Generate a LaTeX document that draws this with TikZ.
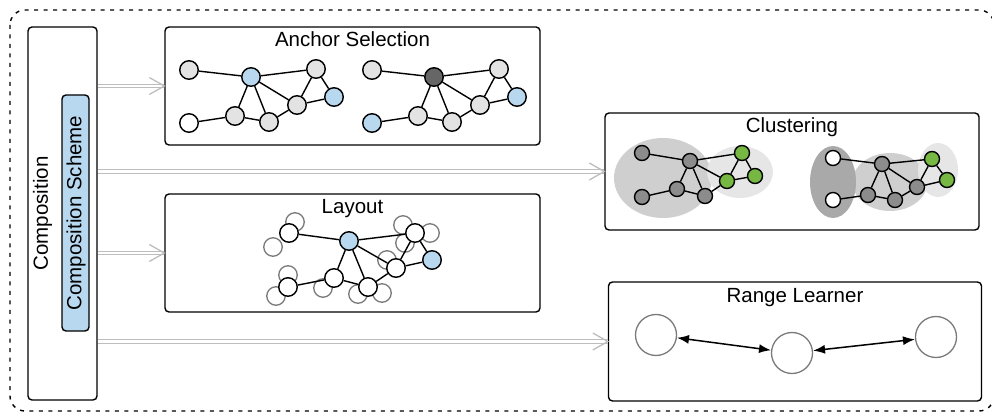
\documentclass[tikz,border=0pt]{standalone}
\usepackage{fontspec}
\setmainfont{Liberation Sans}
\usetikzlibrary{arrows.meta,calc}
\definecolor{lg}{HTML}{E3E3E3}
\definecolor{lb}{HTML}{B8D8F0}
\definecolor{dg}{HTML}{666666}
\definecolor{cg}{HTML}{8C8C8C}
\definecolor{gr}{HTML}{77B843}
\definecolor{ellA}{HTML}{CFCFCF}
\definecolor{ellB}{HTML}{E6E6E6}
\definecolor{ellC}{HTML}{A9A9A9}
\definecolor{ghost}{HTML}{7A7A7A}
\definecolor{feedc}{HTML}{BDBDBD}
\begin{document}
\begin{tikzpicture}[x=1pt,y=-1pt,
  box/.style={draw, line width=1.4pt, rounded corners=4pt, inner sep=0pt},
  title/.style={anchor=base, font=\fontsize{20.5pt}{24pt}\selectfont, inner sep=0pt},
  gn/.style={circle, draw, line width=1.4pt, minimum size=18.5pt, inner sep=0pt},
  cn/.style={circle, draw, line width=1.4pt, minimum size=15pt, inner sep=0pt},
  ghostn/.style={circle, draw=ghost, line width=1.3pt, minimum size=18.5pt, inner sep=0pt},
  rn/.style={circle, draw=ghost, line width=1.3pt, minimum size=41pt, inner sep=0pt},
  ed/.style={line width=1.4pt},
  feed/.style={draw=feedc, double=white, double distance=2.2pt, line width=1.2pt},
  barb/.style={draw=feedc, line width=1.3pt},
  rarr/.style={line width=1.5pt, {Latex[length=12pt,width=9pt]}-{Latex[length=12pt,width=9pt]}}
]
\useasboundingbox (0,0) rectangle (992,419);
% outer dashed frame
\draw[line width=1.4pt, dash pattern=on 4pt off 5.5pt, rounded corners=15pt] (10,10) rectangle (994,411);

% Composition
\node[box, fill=white, minimum width=69pt, minimum height=373pt] (comp) at (62.5,213.5) {};
\node[title, anchor=center, rotate=90] (comptext) at (42.5,213.5) {Composition};
\node[box, fill=lb, minimum width=27pt, minimum height=236pt] (scheme) at (75.5,213) {};
\node[title, anchor=center, rotate=90] (schemetext) at (76,213) {Composition Scheme};

% boxes
\node[box, minimum width=375pt, minimum height=118pt] (anc) at (352.5,86) {};
\node[box, minimum width=375pt, minimum height=118pt] (lay) at (352.5,253) {};
\node[box, minimum width=374pt, minimum height=117pt] (clu) at (792,171.5) {};
\node[box, minimum width=373pt, minimum height=119pt] (rng) at (795,341.5) {};
\node[title] (anct) at ([yshift=-20.7pt]anc.north) {Anchor Selection};
\node[title] (layt) at ([yshift=-20.7pt]lay.north) {Layout};
\node[title] (clut) at ([yshift=-20.7pt]clu.north) {Clustering};
\node[title] (rngt) at ([yshift=-20.7pt]rng.north) {Range Learner};

% feeds
\foreach \t in {anc,clu,lay,rng}{
  \draw[feed] (comp.east |- \t.west) -- (\t.west);
  \draw[barb] ([xshift=-15pt,yshift=8.5pt]\t.west) -- (\t.west) -- ([xshift=-15pt,yshift=-8.5pt]\t.west);
}

% Anchor selection graphs
\node[gn, fill=lg] (a1) at (189,70) {};
\node[gn, fill=lb] (b1) at (251,77) {};
\node[gn, fill=lg] (c1) at (316,69) {};
\node[gn, fill=lb] (d1) at (334,97) {};
\node[gn, fill=lg] (e1) at (297,105) {};
\node[gn, fill=lg] (f1) at (269,122) {};
\node[gn, fill=lg] (g1) at (235,116) {};
\node[gn, fill=white] (h1) at (189,123) {};
\begin{scope}[shift={(183,0)}]
\node[gn, fill=lg] (a2) at (189,70) {};
\node[gn, fill=dg] (b2) at (251,77) {};
\node[gn, fill=lg] (c2) at (316,69) {};
\node[gn, fill=lb] (d2) at (334,97) {};
\node[gn, fill=lg] (e2) at (297,105) {};
\node[gn, fill=lg] (f2) at (269,122) {};
\node[gn, fill=lg] (g2) at (235,116) {};
\node[gn, fill=lb] (h2) at (189,123) {};
\end{scope}
\foreach \s in {1,2}{
  \draw[ed] (a\s) -- (b\s) -- (c\s) -- (d\s) -- (e\s) -- (f\s) -- (g\s) -- (h\s);
  \draw[ed] (b\s) -- (g\s) (b\s) -- (f\s) (b\s) -- (e\s) (c\s) -- (e\s);
}

% Layout
\node[ghostn] (q1) at (295,222) {};
\node[ghostn] (q2) at (273,247) {};
\node[ghostn] (q3) at (403,225) {};
\node[ghostn] (q4) at (430,233) {};
\node[ghostn] (q5) at (405,243) {};
\node[ghostn] (q6) at (387,260) {};
\node[ghostn] (q7) at (288,275) {};
\node[ghostn] (q8) at (276,296) {};
\node[ghostn] (q9) at (323,288) {};
\node[ghostn] (q10) at (358,294) {};
\node[ghostn] (q11) at (382,293) {};
\node[gn, fill=white] (la) at (289,233) {};
\node[gn, fill=lb] (lb) at (349,241) {};
\node[gn, fill=white] (lc) at (415,233) {};
\node[gn, fill=lb] (ld) at (432,260) {};
\node[gn, fill=white] (le) at (396,268) {};
\node[gn, fill=white] (lf) at (368,287) {};
\node[gn, fill=white] (lg) at (334,278) {};
\node[gn, fill=white] (lh) at (288,287) {};
\draw[ed] (la) -- (lb) -- (lc) -- (ld) -- (le) -- (lf) -- (lg) -- (lh);
\draw[ed] (lb) -- (lg) (lb) -- (lf) (lb) -- (le) (lc) -- (le);

% Clustering
\fill[ellA] (663,178) ellipse [x radius=49pt, y radius=40pt];
\fill[ellB] (740,172) ellipse [x radius=33pt, y radius=26pt];
\fill[ellA] (890,182) ellipse [x radius=37.5pt, y radius=29pt];
\fill[ellC] (833,182) ellipse [x radius=23pt, y radius=36pt];
\fill[ellB] (938,170) ellipse [x radius=20pt, y radius=27pt];
\node[cn, fill=cg] (ca1) at (642,153) {};
\node[cn, fill=cg] (cb1) at (690,161) {};
\node[cn, fill=gr] (cc1) at (742,153) {};
\node[cn, fill=gr] (cd1) at (755,176) {};
\node[cn, fill=gr] (ce1) at (727,181) {};
\node[cn, fill=cg] (cf1) at (705,196) {};
\node[cn, fill=cg] (cg1) at (677,189) {};
\node[cn, fill=cg] (ch1) at (642,197) {};
\node[cn, fill=white] (ca2) at (833,158) {};
\node[cn, fill=cg] (cb2) at (882,164) {};
\node[cn, fill=gr] (cc2) at (932,159) {};
\node[cn, fill=gr] (cd2) at (947,180) {};
\node[cn, fill=cg] (ce2) at (917,187) {};
\node[cn, fill=cg] (cf2) at (895,200) {};
\node[cn, fill=cg] (cg2) at (868,195) {};
\node[cn, fill=white] (ch2) at (833,200) {};
\foreach \s in {1,2}{
  \draw[ed] (ca\s) -- (cb\s) -- (cc\s) -- (cd\s) -- (ce\s) -- (cf\s) -- (cg\s) -- (ch\s);
  \draw[ed] (cb\s) -- (cg\s) (cb\s) -- (cf\s) (cb\s) -- (ce\s) (cc\s) -- (ce\s);
}

% Range learner
\node[rn] (rl) at (656,335) {};
\node[rn] (rm) at (792,353) {};
\node[rn] (rr) at (936,337) {};
\draw[rarr] (rl) -- (rm);
\draw[rarr] (rm) -- (rr);
\end{tikzpicture}
\end{document}
